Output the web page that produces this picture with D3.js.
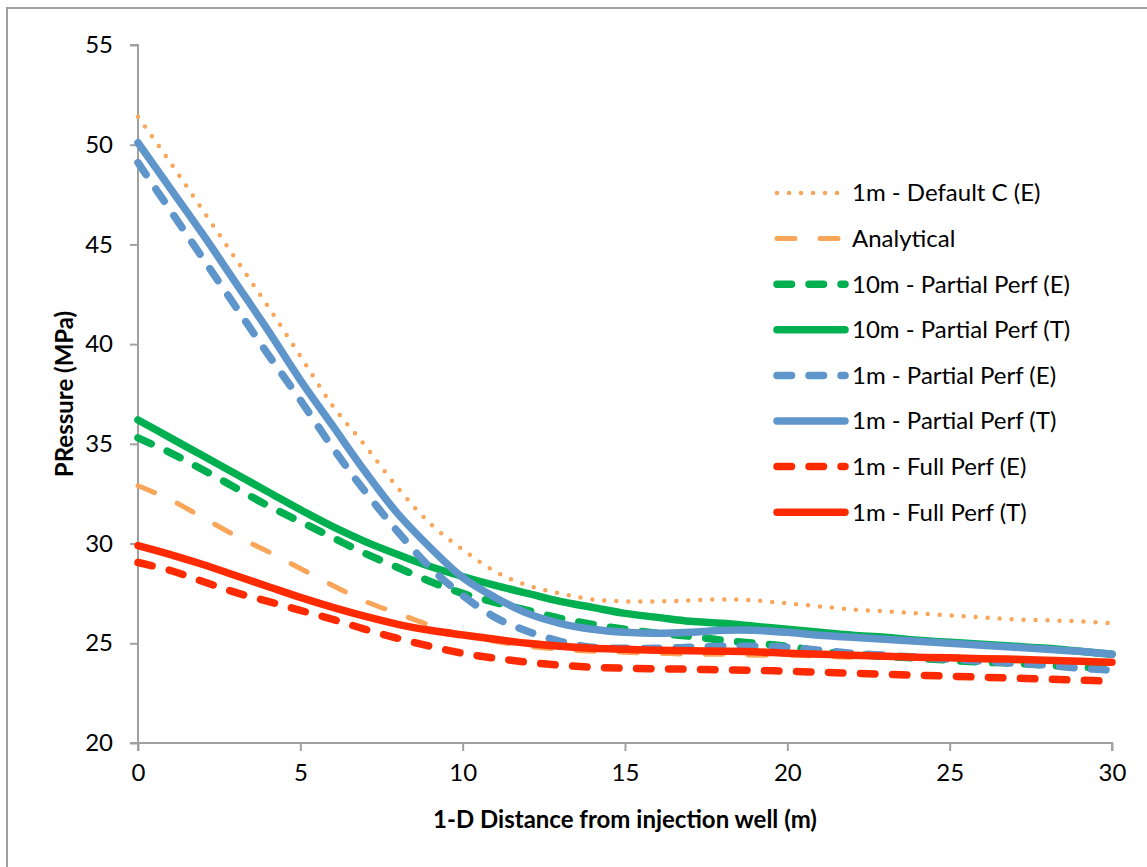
<!DOCTYPE html>
<html>
<head>
<meta charset="utf-8">
<script src="https://cdn.jsdelivr.net/npm/d3@7"></script>
<style>
  body { margin: 0; background: #fff; }
  svg text { font-family: Lato, "Open Sans", sans-serif; fill: #000; }
</style>
</head>
<body>
<div id="container"></div>
<script>

// distance from injection well (m)
var distance = [0, 1, 2, 3, 4, 5, 6, 7, 8, 9, 10, 11, 12, 13, 14, 15,
                16, 17, 18, 19, 20, 21, 22, 23, 24, 25, 26, 27, 28, 29, 30];

// pressures (MPa)
var defaultC_E = [51.4, 49.1, 46.7, 44.3, 41.9, 39.4, 36.9, 34.9, 32.8, 31.0, 29.7,
                  28.6, 27.9, 27.5, 27.2, 27.1, 27.1, 27.15, 27.2, 27.15, 27.0,
                  26.85, 26.7, 26.6, 26.5, 26.4, 26.3, 26.2, 26.15, 26.1, 26.0];
var analytical = [32.9, 32.2, 31.3, 30.4, 29.6, 28.75, 27.9, 27.1, 26.5, 25.9, 25.4,
                  25.1, 24.85, 24.7, 24.6, 24.55, 24.5, 24.45, 24.45, 24.4, 24.4,
                  24.35, 24.3, 24.3, 24.25, 24.2, 24.15, 24.1, 24.1, 24.05, 24.0];
var partial10_E = [35.3, 34.55, 33.7, 32.8, 31.9, 31.1, 30.3, 29.5, 28.8, 28.1, 27.5,
                   27.05, 26.65, 26.25, 25.95, 25.7, 25.5, 25.35, 25.15, 25.0, 24.85,
                   24.6, 24.45, 24.35, 24.25, 24.15, 24.05, 24.0, 23.9, 23.8, 23.75];
var partial10_T = [36.2, 35.3, 34.4, 33.5, 32.6, 31.7, 30.85, 30.1, 29.45, 28.85, 28.35,
                   27.9, 27.5, 27.1, 26.8, 26.5, 26.3, 26.1, 26.0, 25.85, 25.7,
                   25.55, 25.4, 25.3, 25.15, 25.05, 24.95, 24.85, 24.75, 24.6, 24.45];
var partial1_E = [49.1, 46.7, 44.3, 41.9, 39.5, 37.2, 34.8, 32.6, 30.6, 28.8, 27.4,
                  26.3, 25.6, 25.1, 24.8, 24.75, 24.75, 24.8, 24.85, 24.85, 24.8,
                  24.65, 24.5, 24.4, 24.3, 24.2, 24.1, 24.0, 23.9, 23.75, 23.65];
var partial1_T = [50.1, 47.8, 45.5, 43.1, 40.7, 38.2, 35.9, 33.6, 31.5, 29.8, 28.3,
                  27.3, 26.5, 26.0, 25.7, 25.55, 25.5, 25.55, 25.65, 25.65, 25.55,
                  25.4, 25.3, 25.2, 25.1, 25.0, 24.9, 24.8, 24.7, 24.6, 24.45];
var full1_E = [29.05, 28.65, 28.1, 27.55, 27.1, 26.65, 26.2, 25.7, 25.25, 24.85, 24.5,
               24.25, 24.05, 23.9, 23.8, 23.75, 23.72, 23.7, 23.67, 23.64, 23.6,
               23.55, 23.5, 23.45, 23.4, 23.35, 23.3, 23.25, 23.2, 23.15, 23.1];
var full1_T = [29.9, 29.45, 28.95, 28.4, 27.85, 27.3, 26.8, 26.35, 25.95, 25.65, 25.42,
               25.2, 25.0, 24.85, 24.75, 24.7, 24.65, 24.62, 24.6, 24.57, 24.5,
               24.45, 24.4, 24.35, 24.3, 24.27, 24.23, 24.2, 24.15, 24.1, 24.05];

var seriesNames = ["1m - Default C (E)", "Analytical", "10m - Partial Perf (E)",
                   "10m - Partial Perf (T)", "1m - Partial Perf (E)", "1m - Partial Perf (T)",
                   "1m - Full Perf (E)", "1m - Full Perf (T)"];
var seriesValues = [defaultC_E, analytical, partial10_E, partial10_T,
                    partial1_E, partial1_T, full1_E, full1_T];

var xTicks = [0, 5, 10, 15, 20, 25, 30];
var yTicks = [20, 25, 30, 35, 40, 45, 50, 55];

// line look for each series
var styles = [
    { color: "#F9A65A", width: 4.5, dash: "0,12" },
    { color: "#F9A65A", width: 5, dash: "18,25" },
    { color: "#00B050", width: 7.5, dash: "14.5,17.5" },
    { color: "#00B050", width: 7.5, dash: null },
    { color: "#5E95CA", width: 7.5, dash: "14.5,17.5" },
    { color: "#5E95CA", width: 7.5, dash: null },
    { color: "#FF2A00", width: 7.5, dash: "14.5,17.5" },
    { color: "#FF2A00", width: 7.5, dash: null }
];

var W = 1147, H = 867;
var pLeft = 138, pRight = 1112, pTop = 45, pBottom = 743;
var fontSize = "24px";

var svg = d3.select("#container").append("svg")
    .attr("width", W)
    .attr("height", H);

// chart frame (only left/top edges fall inside the picture)
svg.append("rect")
    .attr("x", 7).attr("y", 8)
    .attr("width", 1300).attr("height", 1000)
    .attr("fill", "none")
    .attr("stroke", "#A0A0A0")
    .attr("stroke-width", 2);

var x = d3.scaleLinear().domain([0, 30]).range([pLeft, pRight]);
var y = d3.scaleLinear().domain([20, 55]).range([pBottom, pTop]);

var xAxis = svg.append("g")
    .attr("transform", "translate(0," + pBottom + ")")
    .call(d3.axisBottom(x).tickValues(xTicks).tickSize(8).tickPadding(13));
var yAxis = svg.append("g")
    .attr("transform", "translate(" + pLeft + ",0)")
    .call(d3.axisLeft(y).tickValues(yTicks).tickSize(8).tickPadding(17));

[xAxis, yAxis].forEach(function(ax){
    ax.select(".domain").attr("stroke", "#A0A0A0").attr("stroke-width", 2);
    ax.selectAll(".tick line").attr("stroke", "#A0A0A0").attr("stroke-width", 2);
    ax.selectAll(".tick text").style("font-size", fontSize).attr("fill", "#000");
});
// excel style axes: each line runs past the corner to meet the other's tick row
yAxis.select(".domain").attr("d", "M-8," + pTop + "H0V" + (pBottom + 8));
xAxis.select(".domain").attr("d", "M" + (pLeft - 8) + ",0H" + pRight + "V8");

var line = d3.line()
    .x(function(d){ return x(d[0]); })
    .y(function(d){ return y(d[1]); })
    .curve(d3.curveCatmullRom.alpha(0.5));

seriesValues.forEach(function(vals, i){
    var pts = distance.map(function(d, j){ return [d, vals[j]]; });
    var st = styles[i];
    svg.append("path")
        .attr("d", line(pts))
        .attr("fill", "none")
        .attr("stroke", st.color)
        .attr("stroke-width", st.width)
        .attr("stroke-linecap", "round")
        .attr("stroke-linejoin", "round")
        .attr("stroke-dasharray", st.dash);
});

// legend
var legend = svg.append("g");
seriesNames.forEach(function(name, i){
    var ly = 193 + i * 45.6;
    var st = styles[i];
    legend.append("line")
        .attr("x1", 777).attr("x2", 845)
        .attr("y1", ly).attr("y2", ly)
        .attr("stroke", st.color)
        .attr("stroke-width", st.width)
        .attr("stroke-linecap", "round")
        .attr("stroke-dasharray", st.dash);
    legend.append("text")
        .attr("x", 852).attr("y", ly)
        .attr("dy", "0.35em")
        .style("font-size", fontSize)
        .text(name);
});

// axis titles
svg.append("text")
    .attr("x", (pLeft + pRight) / 2).attr("y", 820)
    .attr("dy", "0.35em")
    .attr("text-anchor", "middle")
    .style("font-size", fontSize)
    .style("font-weight", "bold")
    .text("1-D Distance from injection well (m)");

svg.append("text")
    .attr("transform", "translate(65," + ((pTop + pBottom) / 2) + ") rotate(-90)")
    .attr("dy", "0.35em")
    .attr("text-anchor", "middle")
    .style("font-size", fontSize)
    .style("font-weight", "bold")
    .text("PRessure (MPa)");

</script>
</body>
</html>
